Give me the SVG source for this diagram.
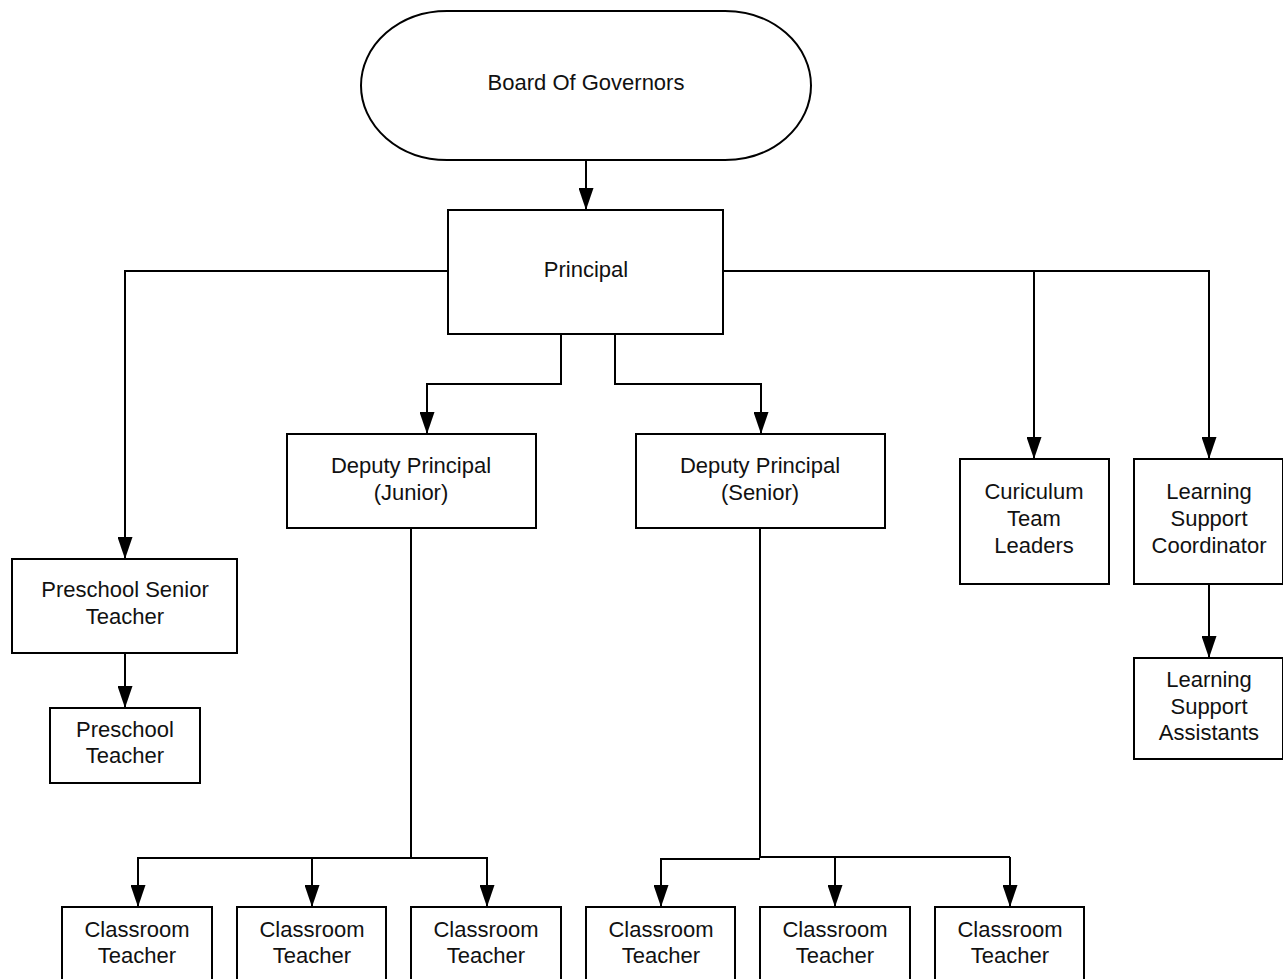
<svg xmlns="http://www.w3.org/2000/svg" width="1283" height="979" viewBox="0 0 1283 979">
<style>
.box{fill:#fff;stroke:#000;stroke-width:2}
.t{font-family:"Liberation Sans",Arial,sans-serif;font-size:22px;fill:#111;text-anchor:middle}
.c{fill:none;stroke:#000;stroke-width:2}
</style>
<defs>
<marker id="arr" markerUnits="userSpaceOnUse" markerWidth="22" markerHeight="15" viewBox="0 0 22 15" refX="21" refY="7.5" orient="auto">
<path d="M0,0 L22,7.5 L0,15 z" fill="#000"/>
</marker>
</defs>
<rect width="1283" height="979" fill="#fff"/>
<g id="connectors">
<path class="c" d="M586,160 V209" marker-end="url(#arr)"/>
<path class="c" d="M448,271 H125 V558" marker-end="url(#arr)"/>
<path class="c" d="M723,271 H1209 V458" marker-end="url(#arr)"/>
<path class="c" d="M1034,271 V458" marker-end="url(#arr)"/>
<path class="c" d="M561,334 V384 H427 V433" marker-end="url(#arr)"/>
<path class="c" d="M615,334 V384 H761 V433" marker-end="url(#arr)"/>
<path class="c" d="M125,653 V707" marker-end="url(#arr)"/>
<path class="c" d="M1209,584 V657" marker-end="url(#arr)"/>
<path class="c" d="M411,528 V858"/>
<path class="c" d="M138,858 H487"/>
<path class="c" d="M138,857 V906" marker-end="url(#arr)"/>
<path class="c" d="M312,857 V906" marker-end="url(#arr)"/>
<path class="c" d="M487,857 V906" marker-end="url(#arr)"/>
<path class="c" d="M760,528 V857"/>
<path class="c" d="M661,906 V859 H760"/>
<path class="c" d="M661,859 V906" marker-end="url(#arr)"/>
<path class="c" d="M759,857 H1010"/>
<path class="c" d="M835,857 V906" marker-end="url(#arr)"/>
<path class="c" d="M1010,857 V906" marker-end="url(#arr)"/>
</g>
<g id="board"><rect class="box" x="361" y="11" width="450" height="149" rx="86" ry="74.5"/><text class="t" x="586" y="90">Board Of Governors</text></g>
<g id="principal"><rect class="box" x="448" y="210" width="275" height="124"/><text class="t" x="586" y="277">Principal</text></g>
<g id="deputy-junior"><rect class="box" x="287" y="434" width="249" height="94"/><text class="t" x="411" y="473">Deputy Principal</text><text class="t" x="411" y="500">(Junior)</text></g>
<g id="deputy-senior"><rect class="box" x="636" y="434" width="249" height="94"/><text class="t" x="760" y="473">Deputy Principal</text><text class="t" x="760" y="500">(Senior)</text></g>
<g id="curiculum"><rect class="box" x="960" y="459" width="149" height="125"/><text class="t" x="1034" y="499">Curiculum</text><text class="t" x="1034" y="526">Team</text><text class="t" x="1034" y="553">Leaders</text></g>
<g id="ls-coordinator"><rect class="box" x="1134" y="459" width="149" height="125"/><text class="t" x="1209" y="499">Learning</text><text class="t" x="1209" y="526">Support</text><text class="t" x="1209" y="553">Coordinator</text></g>
<g id="ls-assistants"><rect class="box" x="1134" y="658" width="149" height="101"/><text class="t" x="1209" y="687">Learning</text><text class="t" x="1209" y="714">Support</text><text class="t" x="1209" y="740">Assistants</text></g>
<g id="preschool-senior"><rect class="box" x="12" y="559" width="225" height="94"/><text class="t" x="125" y="597">Preschool Senior</text><text class="t" x="125" y="624">Teacher</text></g>
<g id="preschool-teacher"><rect class="box" x="50" y="708" width="150" height="75"/><text class="t" x="125" y="737">Preschool</text><text class="t" x="125" y="763">Teacher</text></g>
<g id="ct1"><rect class="box" x="62" y="907" width="150" height="90"/><text class="t" x="137" y="937">Classroom</text><text class="t" x="137" y="963">Teacher</text></g>
<g id="ct2"><rect class="box" x="237" y="907" width="149" height="90"/><text class="t" x="312" y="937">Classroom</text><text class="t" x="312" y="963">Teacher</text></g>
<g id="ct3"><rect class="box" x="411" y="907" width="150" height="90"/><text class="t" x="486" y="937">Classroom</text><text class="t" x="486" y="963">Teacher</text></g>
<g id="ct4"><rect class="box" x="586" y="907" width="149" height="90"/><text class="t" x="661" y="937">Classroom</text><text class="t" x="661" y="963">Teacher</text></g>
<g id="ct5"><rect class="box" x="760" y="907" width="150" height="90"/><text class="t" x="835" y="937">Classroom</text><text class="t" x="835" y="963">Teacher</text></g>
<g id="ct6"><rect class="box" x="935" y="907" width="149" height="90"/><text class="t" x="1010" y="937">Classroom</text><text class="t" x="1010" y="963">Teacher</text></g>
</svg>
